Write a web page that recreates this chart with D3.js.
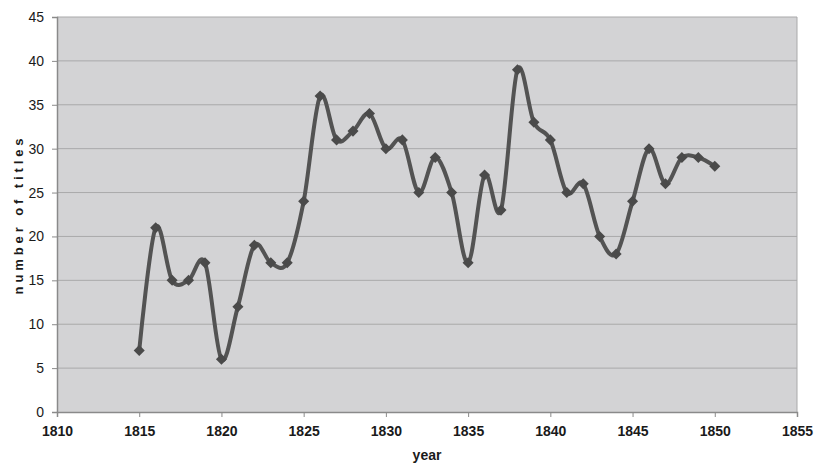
<!DOCTYPE html>
<html>
<head>
<meta charset="utf-8">
<script src="https://cdn.jsdelivr.net/npm/d3@7"></script>
<style>
  html, body { margin: 0; padding: 0; background: #fff; }
  svg { display: block; font-family: "Liberation Sans", Arial, sans-serif; }
</style>
</head>
<body>
<svg id="chart" width="815" height="463"></svg>
<script>
// Titles published per year
const years = [1815, 1816, 1817, 1818, 1819, 1820, 1821, 1822, 1823, 1824,
               1825, 1826, 1827, 1828, 1829, 1830, 1831, 1832, 1833, 1834,
               1835, 1836, 1837, 1838, 1839, 1840, 1841, 1842, 1843, 1844,
               1845, 1846, 1847, 1848, 1849, 1850];
const titles = [7, 21, 15, 15, 17, 6, 12, 19, 17, 17,
                24, 36, 31, 32, 34, 30, 31, 25, 29, 25,
                17, 27, 23, 39, 33, 31, 25, 26, 20, 18,
                24, 30, 26, 29, 29, 28];
const xTicks = [1810, 1815, 1820, 1825, 1830, 1835, 1840, 1845, 1850, 1855];
const yTicks = [0, 5, 10, 15, 20, 25, 30, 35, 40, 45];

const data = years.map((yr, i) => ({ year: yr, value: titles[i] }));

const svg = d3.select("#chart");
const plotL = 57, plotR = 797, plotT = 17, plotB = 412;

const x = d3.scaleLinear().domain([1810, 1855]).range([plotL, plotR]);
const y = d3.scaleLinear().domain([0, 45]).range([plotB, plotT]);

// plot background
svg.append("rect")
  .attr("x", plotL).attr("y", plotT)
  .attr("width", plotR - plotL).attr("height", plotB - plotT)
  .attr("fill", "#d3d3d5");

// horizontal gridlines
svg.append("g")
  .selectAll("line")
  .data(yTicks.filter(d => d > 0))
  .join("line")
  .attr("x1", plotL).attr("x2", plotR)
  .attr("y1", d => y(d)).attr("y2", d => y(d))
  .attr("stroke", "#a9a9aa").attr("stroke-width", 1);

// right border
svg.append("line")
  .attr("x1", plotR).attr("x2", plotR).attr("y1", plotT).attr("y2", plotB)
  .attr("stroke", "#a9a9aa");

// axes
const xAxis = svg.append("g")
  .attr("transform", `translate(0,${plotB})`)
  .call(d3.axisBottom(x).tickValues(xTicks).tickFormat(d3.format("d")).tickSize(5).tickPadding(9));
const yAxis = svg.append("g")
  .attr("transform", `translate(${plotL},0)`)
  .call(d3.axisLeft(y).tickValues(yTicks).tickSize(5).tickPadding(8));

[xAxis, yAxis].forEach(g => {
  g.select(".domain").attr("stroke", "#8a8a8a").attr("stroke-width", 1.5);
  g.selectAll(".tick line").attr("stroke", "#8a8a8a");
  g.selectAll(".tick text").attr("fill", "#1a1a1a").attr("font-family", "Liberation Sans, Arial, sans-serif");
});
xAxis.selectAll(".tick text").attr("font-size", 14).attr("font-weight", "bold");
yAxis.selectAll(".tick text").attr("font-size", 14);

// axis titles
svg.append("text")
  .attr("x", (plotL + plotR) / 2).attr("y", 460)
  .attr("text-anchor", "middle")
  .attr("font-size", 14).attr("font-weight", "bold").attr("fill", "#1a1a1a")
  .text("year");
svg.append("text")
  .attr("transform", `translate(23,${(plotT + plotB) / 2}) rotate(-90)`)
  .attr("text-anchor", "middle")
  .attr("font-size", 13).attr("font-weight", "bold").attr("fill", "#1a1a1a")
  .attr("letter-spacing", "3.9px")
  .text("number of titles");

// smoothed series line
const line = d3.line()
  .x(d => x(d.year)).y(d => y(d.value))
  .curve(d3.curveCatmullRom.alpha(0));
svg.append("path")
  .datum(data)
  .attr("d", line)
  .attr("fill", "none")
  .attr("stroke", "#535353")
  .attr("stroke-width", 4)
  .attr("stroke-linejoin", "round");

// diamond markers
const diamond = d3.symbol().type(d3.symbolDiamond2).size(78);
svg.append("g")
  .selectAll("path")
  .data(data)
  .join("path")
  .attr("d", diamond)
  .attr("transform", d => `translate(${x(d.year)},${y(d.value)})`)
  .attr("fill", "#4a4a4a");
</script>
</body>
</html>
